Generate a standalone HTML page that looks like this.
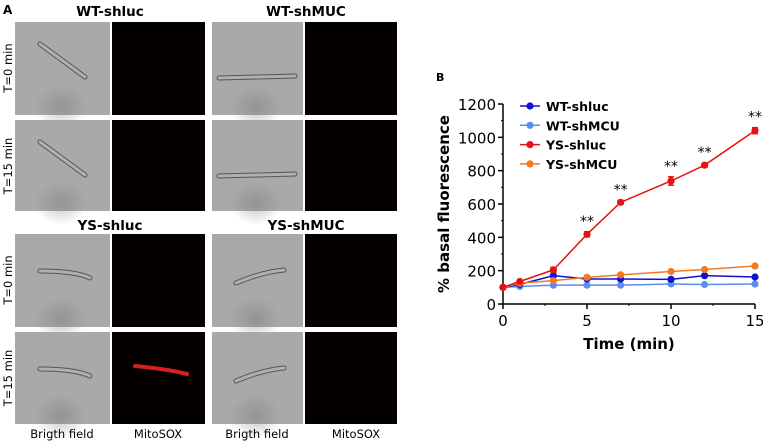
<!DOCTYPE html>
<html><head><meta charset="utf-8"><style>
html,body{margin:0;padding:0;background:#fff;}
svg{display:block;font-family:"DejaVu Sans","Liberation Sans",sans-serif;}
</style></head><body>
<svg id="fig" width="763" height="442" viewBox="0 0 763 442" xmlns="http://www.w3.org/2000/svg">
<defs>
<radialGradient id="blob" cx="0.5" cy="0.5" r="0.5">
<stop offset="0" stop-color="#7a7a7a" stop-opacity="0.45"/><stop offset="1" stop-color="#7a7a7a" stop-opacity="0"/>
</radialGradient>
</defs>
<g id="panelA">
<text x="3" y="14" font-size="12" font-weight="bold">A</text>
<text x="110" y="16" font-size="13.5" font-weight="bold" text-anchor="middle">WT-shluc</text>
<text x="306" y="16" font-size="13.5" font-weight="bold" text-anchor="middle">WT-shMUC</text>
<text x="110" y="230" font-size="13.5" font-weight="bold" text-anchor="middle">YS-shluc</text>
<text x="306" y="230" font-size="13.5" font-weight="bold" text-anchor="middle">YS-shMUC</text>
<text transform="translate(12,68) rotate(-90)" font-size="11.5" text-anchor="middle">T=0 min</text>
<text transform="translate(12,166) rotate(-90)" font-size="11.5" text-anchor="middle">T=15 min</text>
<text transform="translate(12,280) rotate(-90)" font-size="11.5" text-anchor="middle">T=0 min</text>
<text transform="translate(12,378) rotate(-90)" font-size="11.5" text-anchor="middle">T=15 min</text>
<g id="tiles"></g>
<text x="62" y="438" font-size="11.5" text-anchor="middle">Brigth field</text>
<text x="158" y="438" font-size="11.5" text-anchor="middle">MitoSOX</text>
<text x="257" y="438" font-size="11.5" text-anchor="middle">Brigth field</text>
<text x="356" y="438" font-size="11.5" text-anchor="middle">MitoSOX</text>
</g>
<g id="panelB">
<text x="436" y="81" font-size="11" font-weight="bold">B</text>
<text transform="translate(449,204) rotate(-90)" font-size="15" font-weight="bold" text-anchor="middle">% basal fluorescence</text>
<text x="629" y="349" font-size="15" font-weight="bold" text-anchor="middle">Time (min)</text>
<g id="axes"></g>
<g id="series"></g>
<g id="legend"></g>
</g>
</svg>
<script>
const times = [0, 1, 3, 5, 7, 10, 12, 15];
const wtShluc = [100, 118, 170, 150, 150, 148, 170, 162];
const wtShmcu = [100, 105, 113, 113, 113, 120, 117, 120];
const ysShluc = [100, 135, 205, 418, 610, 738, 833, 1040];
const ysShmcu = [100, 125, 140, 160, 175, 195, 207, 228];
const ysErr = [0, 8, 15, 15, 12, 25, 12, 18];
const yTicks = [0, 200, 400, 600, 800, 1000, 1200];
const xTicks = [0, 5, 10, 15];
const starTimes = [5, 7, 10, 12, 15];
const seriesNames = ["WT-shluc", "WT-shMCU", "YS-shluc", "YS-shMCU"];

const NS = "http://www.w3.org/2000/svg";
function mk(tag, attrs, parent, txt) {
  const e = document.createElementNS(NS, tag);
  for (const k in attrs) e.setAttribute(k, attrs[k]);
  if (txt !== undefined) e.textContent = txt;
  parent.appendChild(e);
  return e;
}
const tiles = document.getElementById("tiles");
const cols = [[15, 110], [112, 205], [212, 303], [305, 397]];
const rows = [[22, 115], [120, 211], [234, 327], [332, 424]];
rows.forEach((r, ri) => {
  cols.forEach((c, ci) => {
    const bf = ci % 2 === 0;
    const w = c[1] - c[0], h = r[1] - r[0];
    const t = mk("rect", {x: c[0], y: r[0], width: w, height: h, fill: bf ? "#a9a9a9" : "#040000"}, tiles);
    
    
    if (bf) {
      mk("ellipse", {cx: c[0] + w * 0.48, cy: r[1] - 8, rx: 26, ry: 22, fill: "url(#blob)"}, tiles);
      let d;
      if (ri < 2 && ci === 0) d = `M${c[0]+25},${r[0]+22} L${c[0]+70},${r[0]+55}`;
      else if (ri < 2) d = `M${c[0]+7},${r[0]+56} L${c[0]+83},${r[0]+54}`;
      else if (ci === 0) d = `M${c[0]+25},${r[0]+37} Q${c[0]+60},${r[0]+37} ${c[0]+75},${r[0]+44}`;
      else d = `M${c[0]+24},${r[0]+49} Q${c[0]+50},${r[0]+38} ${c[0]+72},${r[0]+36}`;
      mk("path", {d: d, stroke: "#555", "stroke-width": 5, fill: "none", "stroke-linecap": "round"}, tiles);
      mk("path", {d: d, stroke: "#b0b0b0", "stroke-width": 3, fill: "none", "stroke-linecap": "round"}, tiles);
    } else if (ri === 3 && ci === 1) {
      mk("path", {d: `M${c[0]+23},${r[0]+34} Q${c[0]+55},${r[0]+37} ${c[0]+75},${r[0]+42}`, stroke: "#d42020", "stroke-width": 4, fill: "none", "stroke-linecap": "round"}, tiles);
    }
  });
});
const X0 = 503, X1 = 755, Y0 = 304, Y1 = 104;
const xs = v => X0 + (v - 0) / 15 * (X1 - X0);
const ys = v => Y0 - v / 1200 * (Y0 - Y1);
const axes = document.getElementById("axes");
const ya = mk("line", {x1: X0, y1: Y1, x2: X0, y2: Y0, stroke: "#000", "stroke-width": 1.5}, axes);


const xa = mk("line", {x1: X0, y1: Y0, x2: X1, y2: Y0, stroke: "#000", "stroke-width": 1.5}, axes);


yTicks.forEach(v => {
  mk("line", {x1: X0 - 5, y1: ys(v), x2: X0, y2: ys(v), stroke: "#000", "stroke-width": 1.5}, axes);
  if (v < 1200) mk("line", {x1: X0 - 2, y1: ys(v + 100), x2: X0, y2: ys(v + 100), stroke: "#000", "stroke-width": 1}, axes);
  const l = mk("text", {x: X0 - 7, y: ys(v) + 6, "font-size": 15, "text-anchor": "end"}, axes, v);
  
  
});
xTicks.forEach(v => {
  mk("line", {x1: xs(v), y1: Y0, x2: xs(v), y2: Y0 + 5, stroke: "#000", "stroke-width": 1.5}, axes);
  if (v < 15) mk("line", {x1: xs(v + 2.5), y1: Y0, x2: xs(v + 2.5), y2: Y0 + 2, stroke: "#000", "stroke-width": 1}, axes);
  const l = mk("text", {x: xs(v), y: Y0 + 22, "font-size": 15, "text-anchor": "middle"}, axes, v);
  
  
});
const ser = document.getElementById("series");
const allData = [wtShmcu, wtShluc, ysShmcu, ysShluc];
const colors = ["#5b8ef0", "#1010d8", "#f47a20", "#e81010"];
const names = ["series-wt-shmcu", "series-wt-shluc", "series-ys-shmcu", "series-ys-shluc"];
allData.forEach((d, si) => {
  const g = mk("g", {}, ser);
  
  
  mk("polyline", {points: times.map((t, i) => xs(t) + "," + ys(d[i])).join(" "), fill: "none", stroke: colors[si], "stroke-width": 1.5}, g);
  times.forEach((t, i) => {
    if (si === 3) {
      const e = ysErr[i];
      mk("line", {x1: xs(t), y1: ys(d[i] + e), x2: xs(t), y2: ys(d[i] - e), stroke: colors[si], "stroke-width": 1.5}, g);
      mk("line", {x1: xs(t) - 3, y1: ys(d[i] + e), x2: xs(t) + 3, y2: ys(d[i] + e), stroke: colors[si], "stroke-width": 1.5}, g);
      mk("line", {x1: xs(t) - 3, y1: ys(d[i] - e), x2: xs(t) + 3, y2: ys(d[i] - e), stroke: colors[si], "stroke-width": 1.5}, g);
    }
    const p = mk("circle", {cx: xs(t), cy: ys(d[i]), r: 3.6, fill: colors[si]}, g);
    
    
  });
});
starTimes.forEach(t => {
  const i = times.indexOf(t);
  const s = mk("text", {x: xs(t), y: ys(ysShluc[i] + ysErr[i]) - 6, "font-size": 14, "text-anchor": "middle"}, ser, "**");
  
  
});
const leg = document.getElementById("legend");
const legColors = ["#1010d8", "#5b8ef0", "#e81010", "#f47a20"];
seriesNames.forEach((n, i) => {
  const y = 106 + i * 19.3;
  const g = mk("g", {}, leg);
  
  
  mk("line", {x1: 520, y1: y, x2: 540, y2: y, stroke: legColors[i], "stroke-width": 1.5}, g);
  mk("circle", {cx: 530, cy: y, r: 3.6, fill: legColors[i]}, g);
  mk("text", {x: 546, y: y + 5, "font-size": 12.5, "font-weight": "bold"}, g, n);
});
</script>
</body></html>
